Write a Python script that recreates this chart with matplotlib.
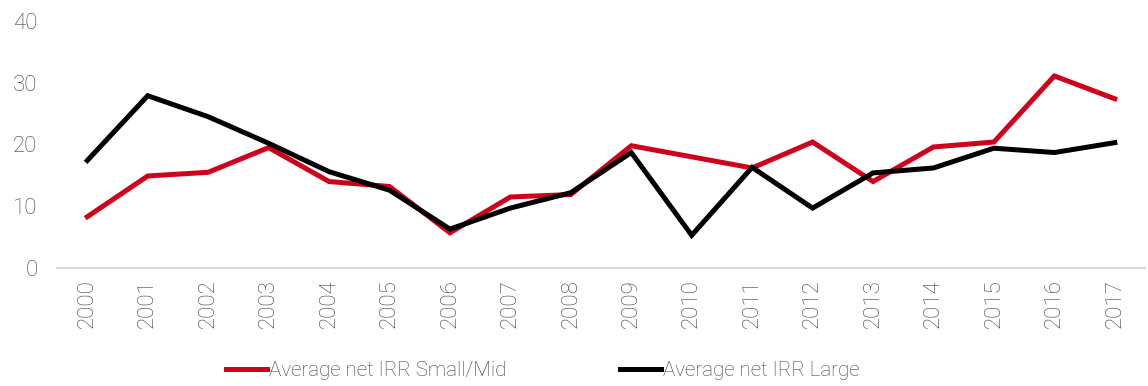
import matplotlib
matplotlib.use("Agg")
import matplotlib.pyplot as plt

years = [str(y) for y in range(2000, 2018)]
small_mid = [8.3, 14.9, 15.5, 19.5, 14.0, 13.2, 5.7, 11.5, 11.9, 19.8, 18.0, 16.2, 20.4, 14.0, 19.6, 20.4, 31.1, 27.4]
large = [17.4, 27.9, 24.5, 20.2, 15.6, 12.6, 6.3, 9.7, 12.2, 18.7, 5.3, 16.3, 9.7, 15.4, 16.2, 19.4, 18.7, 20.3]
yticks = [0, 10, 20, 30, 40]

plt.rcParams['font.family'] = ['Roboto', 'DejaVu Sans']
plt.rcParams['font.weight'] = 'light'

text_color = '#3f3f3f'

fig = plt.figure(figsize=(11.48, 3.86), dpi=100)
ax = fig.add_axes([0.0497, 0.3057, 0.9477, 0.6399])

x = list(range(len(years)))
red = '#D0021B'
ax.plot(x, small_mid, color=red, lw=3.6, label='Average net IRR Small/Mid', solid_joinstyle='miter')
ax.plot(x, large, color='black', lw=3.6, label='Average net IRR Large', solid_joinstyle='miter')

ax.set_xlim(-0.5, len(years) - 0.5)
ax.set_ylim(0, 40)
ax.set_yticks(yticks)
ax.set_xticks(x)
ax.set_xticklabels(years, rotation=90)
for s in ['top', 'right', 'left']:
    ax.spines[s].set_visible(False)
ax.spines['bottom'].set_color('#D9D9D9')
ax.spines['bottom'].set_linewidth(1.5)
ax.tick_params(axis='both', length=0, labelsize=16, colors=text_color)
ax.tick_params(axis='x', pad=8)
ax.tick_params(axis='y', pad=14)

leg = fig.legend(loc='lower center', bbox_to_anchor=(0.473, -0.033), ncol=2, frameon=False,
                 fontsize=14.8, handlelength=2.0, handletextpad=0.1, columnspacing=5.5)
for t in leg.get_texts():
    t.set_color(text_color)

fig.savefig('out.png', dpi=100)
